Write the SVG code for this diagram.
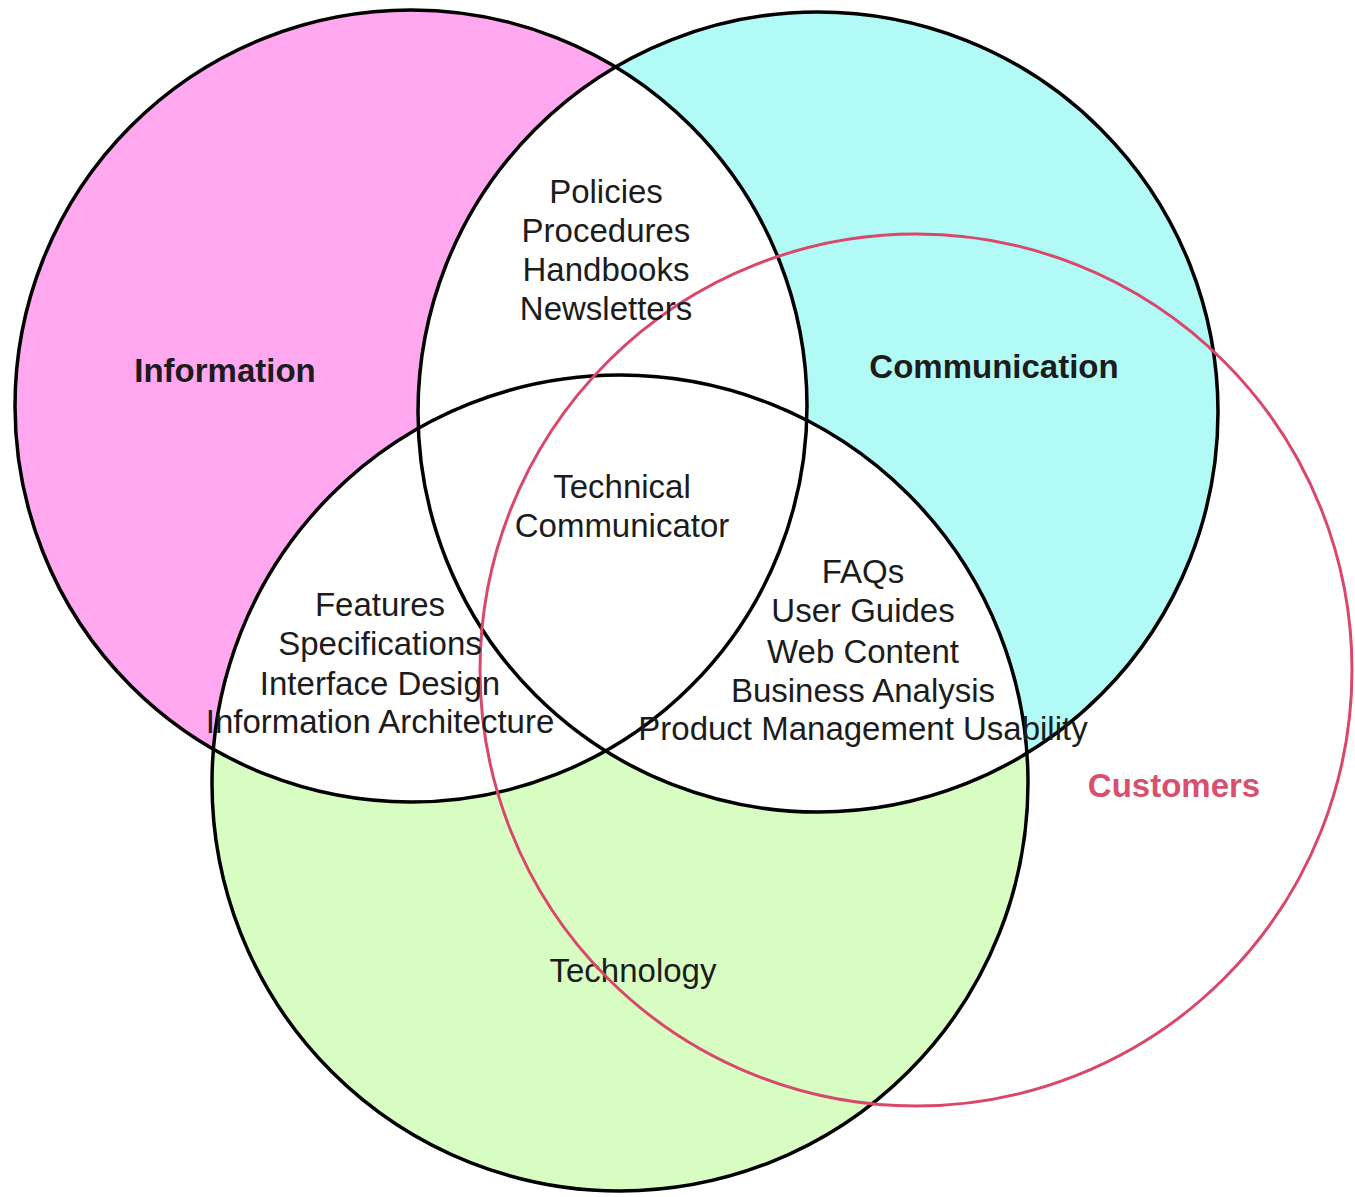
<svg xmlns="http://www.w3.org/2000/svg" width="1355" height="1197" viewBox="0 0 1355 1197">
<style>
  .lbl { font-family: "Liberation Sans", Arial, sans-serif; font-size: 33px; fill: #1c1c1c; text-anchor: middle; }
  .bold { font-weight: bold; }
  .cust { fill: #d9506e; }
  .ring { fill: none; stroke: #000; stroke-width: 3.5; }
  .redring { fill: none; stroke: #d9486a; stroke-width: 3; }
</style>
<defs>
  <clipPath id="clipComm"><circle cx="818" cy="412" r="400"/></clipPath>
  <clipPath id="clipTech"><circle cx="620" cy="783" r="408"/></clipPath>
</defs>
<rect width="1355" height="1197" fill="#fff"/>
<g id="fills">
  <circle cx="411" cy="406" r="396" fill="#ffa8f0"/>
  <circle cx="818" cy="412" r="400" fill="#b2faf6"/>
  <circle cx="620" cy="783" r="408" fill="#d8fdc2"/>
  <circle cx="411" cy="406" r="396" fill="#fff" clip-path="url(#clipComm)"/>
  <circle cx="411" cy="406" r="396" fill="#fff" clip-path="url(#clipTech)"/>
  <circle cx="818" cy="412" r="400" fill="#fff" clip-path="url(#clipTech)"/>
</g>
<g id="information">
  <circle class="ring" cx="411" cy="406" r="396"/>
  <text class="lbl bold" x="225" y="382">Information</text>
</g>
<g id="communication">
  <circle class="ring" cx="818" cy="412" r="400"/>
  <text class="lbl bold" x="994" y="378">Communication</text>
</g>
<g id="technology">
  <circle class="ring" cx="620" cy="783" r="408"/>
  <text class="lbl" x="633" y="982">Technology</text>
</g>
<g id="customers">
  <circle class="redring" cx="916" cy="670" r="436"/>
  <text class="lbl bold cust" x="1174" y="797">Customers</text>
</g>
<g id="info-comm">
  <text class="lbl" x="606" y="203">Policies</text>
  <text class="lbl" x="606" y="242">Procedures</text>
  <text class="lbl" x="606" y="281">Handbooks</text>
  <text class="lbl" x="606" y="320">Newsletters</text>
</g>
<g id="center">
  <text class="lbl" x="622" y="498">Technical</text>
  <text class="lbl" x="622" y="537">Communicator</text>
</g>
<g id="info-tech">
  <text class="lbl" x="380" y="616">Features</text>
  <text class="lbl" x="380" y="655">Specifications</text>
  <text class="lbl" x="380" y="695">Interface Design</text>
  <text class="lbl" x="380" y="733">Information Architecture</text>
</g>
<g id="comm-tech">
  <text class="lbl" x="863" y="583">FAQs</text>
  <text class="lbl" x="863" y="622">User Guides</text>
  <text class="lbl" x="863" y="663">Web Content</text>
  <text class="lbl" x="863" y="702">Business Analysis</text>
  <text class="lbl" x="863" y="740">Product Management Usability</text>
</g>
<g id="connectors"></g>
</svg>
